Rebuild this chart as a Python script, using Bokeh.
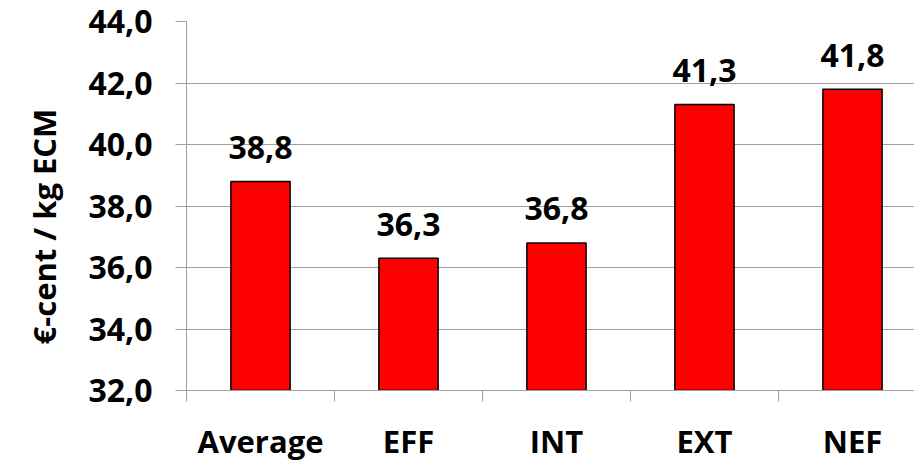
from bokeh.plotting import figure
from bokeh.models import Range1d, FixedTicker, ColumnDataSource, Title
from bokeh.core.properties import value
from bokeh.embed import file_html
from bokeh.resources import INLINE

categories = ["Average", "EFF", "INT", "EXT", "NEF"]
costs = [38.8, 36.3, 36.8, 41.3, 41.8]
y_ticks = [32, 34, 36, 38, 40, 42, 44]
y_tick_labels = ["32,0", "34,0", "36,0", "38,0", "40,0", "42,0", "44,0"]
y_label = "€-cent / kg ECM"

FONT = "Open Sans"
FS = "32px"
GRID = "#a0a0a0"

xs = list(range(len(categories)))
src = ColumnDataSource(dict(
    x=xs, top=costs,
    label=[f"{v:.1f}".replace(".", ",") for v in costs],
))

p = figure(width=914, height=464, output_backend="svg", toolbar_location=None,
           x_range=Range1d(-0.5, 4.419), y_range=Range1d(32, 44),
           min_border_left=186, min_border_right=0, min_border_top=21,
           min_border_bottom=67)
p.outline_line_color = None
p.background_fill_color = "white"

p.vbar(x="x", top="top", bottom=32, width=0.4, source=src,
       fill_color="#ff0000", line_color="black", line_width=1.5)
p.text(x="x", y="top", text="label", source=src, text_align="center",
       text_baseline="alphabetic", y_offset=-34,
       text_font=value(FONT), text_font_style="bold", text_font_size=FS,
       text_color="black")

# y axis
p.yaxis.ticker = FixedTicker(ticks=y_ticks, minor_ticks=[])
p.yaxis.major_label_overrides = {t: l for t, l in zip(y_ticks, y_tick_labels)}
p.yaxis.axis_line_color = GRID
p.yaxis.major_tick_line_color = GRID
p.yaxis.major_tick_out = 11
p.yaxis.major_tick_in = 0
p.yaxis.major_label_standoff = 23
p.yaxis.major_label_text_font = FONT
p.yaxis.major_label_text_font_style = "bold"
p.yaxis.major_label_text_font_size = FS
p.yaxis.major_label_text_color = "black"

# y axis title as a side-panel title (allows shifting it along the axis)
p.add_layout(Title(text=y_label, align="left", vertical_align="middle",
                   offset=46, standoff=40,
                   text_font=FONT, text_font_style="bold",
                   text_font_size="31px", text_color="black"), "left")

# x axis
bounds = [i - 0.5 for i in range(len(categories) + 1)]
p.xaxis.ticker = FixedTicker(ticks=xs, minor_ticks=bounds)
p.xaxis.major_label_overrides = {i: c for i, c in zip(xs, categories)}
p.xaxis.axis_line_color = GRID
p.xaxis.major_tick_line_color = None
p.xaxis.major_tick_out = 11
p.xaxis.major_tick_in = 0
p.xaxis.minor_tick_line_color = GRID
p.xaxis.minor_tick_out = 11
p.xaxis.minor_tick_in = 0
p.xaxis.major_label_standoff = 18
p.xaxis.major_label_text_font = FONT
p.xaxis.major_label_text_font_style = "bold"
p.xaxis.major_label_text_font_size = "31px"
p.xaxis.major_label_text_color = "black"

p.xgrid.grid_line_color = None
p.ygrid.grid_line_color = GRID
p.ygrid.grid_line_width = 1

open("out.html", "w").write(file_html(p, INLINE))
